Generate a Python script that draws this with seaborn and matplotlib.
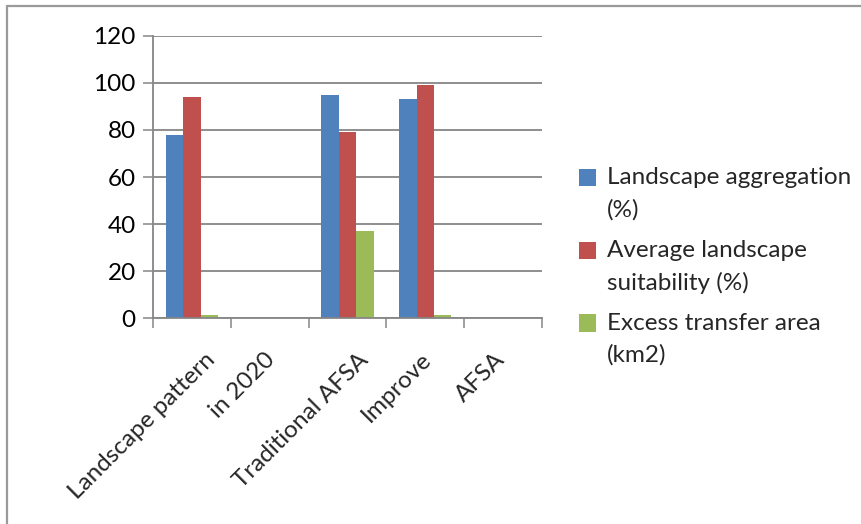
import matplotlib
matplotlib.use("Agg")
import matplotlib.pyplot as plt
from matplotlib.lines import Line2D
from matplotlib.transforms import ScaledTranslation
import numpy as np
import pandas as pd
import seaborn as sns

categories = ["Landscape pattern", "in 2020", "Traditional AFSA", "Improve", "AFSA"]
series = ["Landscape aggregation\n(%)", "Average landscape\nsuitability (%)", "Excess transfer area\n(km2)"]
aggregation = [78, np.nan, 95, 93, np.nan]
suitability = [94, np.nan, 79, 99, np.nan]
transfer_area = [1.5, np.nan, 37, 1.5, np.nan]
y_ticks = [0, 20, 40, 60, 80, 100, 120]
colors = ["#4F81BD", "#C0504D", "#9BBB59"]

df = pd.DataFrame({
    "category": categories * 3,
    "series": [series[0]] * 5 + [series[1]] * 5 + [series[2]] * 5,
    "value": aggregation + suitability + transfer_area,
})

sns.set_theme(style="white")
plt.rcParams["font.family"] = ["Lato", "DejaVu Sans"]
FS = 17.5
GRID = "#868686"

fig = plt.figure(figsize=(8.62, 5.24), dpi=100)
ax = fig.add_axes([153 / 862, 1 - 318.3 / 524, (542 - 153) / 862, (318.3 - 35.7) / 524])

sns.barplot(data=df, x="category", y="value", hue="series", order=categories,
            hue_order=series, palette=colors, width=0.67, saturation=1,
            errorbar=None, ax=ax, linewidth=0)

ax.set_xlim(-0.5, len(categories) - 0.5)
ax.set_ylim(0, 120)
ax.set_yticks(y_ticks)
ax.set_yticklabels([str(v) for v in y_ticks], fontsize=FS)
ax.yaxis.grid(True, color=GRID, linewidth=1.3)
ax.set_axisbelow(True)
ax.tick_params(axis="y", which="major", left=True, length=7.5, width=1.1,
               color=GRID, pad=5, labelcolor="black")

# category boundary ticks on the x axis
ax.set_xticks(np.arange(-0.5, len(categories), 1.0), minor=True)
ax.tick_params(axis="x", which="minor", bottom=True, length=7.5, width=1.1, color=GRID)
ax.tick_params(axis="x", which="major", bottom=False, length=0, pad=8)
ax.set_xticks(range(len(categories)))
ax.set_xticklabels(categories, fontsize=FS, rotation=45, ha="right",
                   va="center", rotation_mode="anchor")

ax.set_xlabel("")
ax.set_ylabel("")
for side in ["top", "right"]:
    ax.spines[side].set_visible(False)
for side in ["left", "bottom"]:
    ax.spines[side].set_color(GRID)
    ax.spines[side].set_linewidth(1.3)

handles, labels = ax.get_legend_handles_labels()
ax.legend_.remove()
leg = fig.legend(handles, labels, loc="upper left",
                 bbox_to_anchor=(567 / 862, 1 - 155 / 524),
                 frameon=False, fontsize=FS, handlelength=0.7, handleheight=0.7,
                 handletextpad=0.45, labelspacing=0.8, borderpad=0)
for t in leg.get_texts():
    t.set_linespacing(1.6)
# align each swatch with the first line of its label
for p in leg.get_patches():
    p.set_y(p.get_y() + FS * 0.68)

# outer chart border (left and top edges)
fig.add_artist(Line2D([7.5 / 862, 7.5 / 862], [0, 1 - 5.5 / 524], transform=fig.transFigure,
                      color="#9a9a9a", linewidth=1.6))
fig.add_artist(Line2D([7.5 / 862, 1], [1 - 5.5 / 524, 1 - 5.5 / 524], transform=fig.transFigure,
                      color="#9a9a9a", linewidth=1.6))

# slanted category labels: longer labels sit a little further right of their slot centre
fig.canvas.draw()
renderer = fig.canvas.get_renderer()
for lbl in ax.get_xticklabels():
    w = lbl.get_window_extent(renderer).width
    dx = (0.22 * w - 14) / fig.dpi
    lbl.set_transform(lbl.get_transform() + ScaledTranslation(dx, -0.27, fig.dpi_scale_trans))

fig.savefig("out.png", dpi=100, facecolor="white")
